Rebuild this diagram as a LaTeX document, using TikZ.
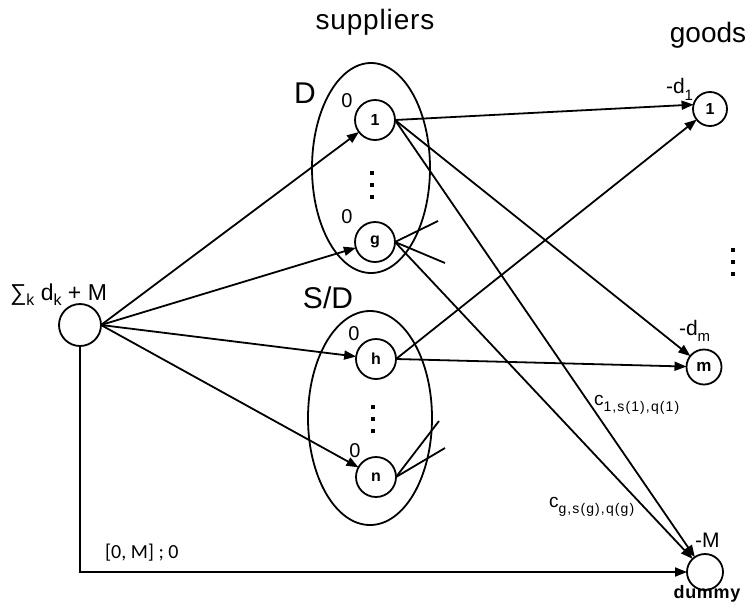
\documentclass[tikz,border=0pt]{standalone}
\usepackage{fontspec}
\setmainfont{Liberation Sans}
\newfontfamily\carl{Carlito}
\usetikzlibrary{arrows.meta,shapes.geometric}
\newcommand\fsz[1]{\fontsize{#1}{#1}\selectfont}
\begin{document}
\begin{tikzpicture}[x=1pt,y=-1pt,
  every node/.style={inner sep=0pt, outer sep=0pt},
  vtx/.style={circle, draw, line width=1.8pt, inner sep=0pt, font=\fsz{16}\bfseries},
  grp/.style={ellipse, draw, line width=1.8pt, inner sep=0pt},
  edge/.style={line width=1.8pt, -{Triangle[length=12pt,width=9pt]}},
  plain/.style={line width=1.8pt},
  lbl/.style={anchor=base west, font=\fsz{21}},
  title/.style={anchor=base, font=\fsz{28}},
  zero/.style={anchor=base, font=\fsz{20}},
  dot/.style={fill=black, rectangle, minimum size=4pt}]
\useasboundingbox (0,0) rectangle (752,611);

% groups
\node[grp, minimum width=118pt, minimum height=210pt] (gD) at (371,168) {};
\node[grp, minimum width=124pt, minimum height=214pt] (gSD) at (370,418) {};

% vertices
\node[vtx, minimum size=42pt] (src) at (80,325) {};
\node[vtx, minimum size=40pt] (s1) at (375,120) {1};
\node[vtx, minimum size=40pt] (sg) at (375,242) {g};
\node[vtx, minimum size=40pt] (sh) at (376,359) {h};
\node[vtx, minimum size=40pt] (sn) at (376,477) {n};
\node[vtx, minimum size=34pt] (gd1) at (710,109) {1};
\node[vtx, minimum size=35pt, font=\fsz{17}\bfseries] (gdm) at (704,367) {m};
\node[vtx, minimum size=36pt] (dm) at (705,572) {};

% stub ends
\coordinate (gs1) at (438,221);
\coordinate (gs2) at (445,263);
\coordinate (ns1) at (439,421);
\coordinate (ns2) at (445,448);

% edges from source
\draw[edge] (src.east) -- (s1);
\draw[edge] (src.east) -- (sg);
\draw[edge] (src.east) -- (sh);
\draw[edge] (src.east) -- (sn);
\draw[edge] (src.south) |- (dm.west);

% supplier to goods
\draw[edge] (s1.east) -- (gd1.165);
\draw[edge] (s1.east) -- (gdm);
\draw[edge] (s1.east) -- (dm);
\draw[edge] (sg.east) -- (dm);
\draw[edge] (sh.east) -- (gd1);
\draw[edge] (sh.east) -- (gdm);

% stubs
\draw[plain] (sg.east) -- (gs1);
\draw[plain] (sg.east) -- (gs2);
\draw[plain] (sn.east) -- (ns1);
\draw[plain] (sn.east) -- (ns2);

% dots
\node[dot] (d1a) at (372,173) {};
\node[dot] (d1b) at (372,185) {};
\node[dot] (d1c) at (372,197) {};
\node[dot] (d2a) at (373,407) {};
\node[dot] (d2b) at (373,419) {};
\node[dot] (d2c) at (373,431) {};
\node[dot] (d3a) at (733,250) {};
\node[dot] (d3b) at (733,262) {};
\node[dot] (d3c) at (733,274) {};

% titles
\node[title, font=\fsz{28}\addfontfeature{LetterSpace=3}] (tsup) at (375,29) {suppliers};
\node[title] (tgoods) at (708,42) {goods};
\node[anchor=base, font=\fsz{30}] (tD) at (305,103) {D};
\node[anchor=base, font=\fsz{30}] (tSD) at (328,308) {S/D};

% zeros
\node[zero] (z1) at (347,107) {0};
\node[zero] (z2) at (347,223) {0};
\node[zero] (z3) at (354,340) {0};
\node[zero] (z4) at (355,457) {0};

% source label
\node[anchor=base west, font=\fsz{23}] (lsrc) at (10,300)
  {∑\raisebox{-5pt}{\fsz{16}k} d\raisebox{-5pt}{\fsz{16}k} + M};

% goods labels
\node[lbl] (lg1) at (666,93) {-d\raisebox{-7pt}{\fsz{15}1}};
\node[lbl] (lgm) at (679,335) {-d\raisebox{-6pt}{\fsz{15}m}};
\node[lbl] (lgM) at (695,547) {-M};
\node[anchor=base, font=\fsz{18}\bfseries\addfontfeature{LetterSpace=4}] (ldm) at (707,598) {dummy};

% cost labels
\node[anchor=base west, font=\fsz{19}] (c1) at (594,405)
  {c\raisebox{-6pt}{\fsz{14}\addfontfeature{LetterSpace=8}1,s(1),q(1)}};
\node[anchor=base west, font=\fsz{19}] (cg) at (549,507)
  {c\raisebox{-6pt}{\fsz{14}\addfontfeature{LetterSpace=8}g,s(g),q(g)}};

% bottom label
\node[anchor=base west, font=\carl\fsz{20}] (lb) at (105,558) {[0, M] ; 0};
\end{tikzpicture}
\end{document}
